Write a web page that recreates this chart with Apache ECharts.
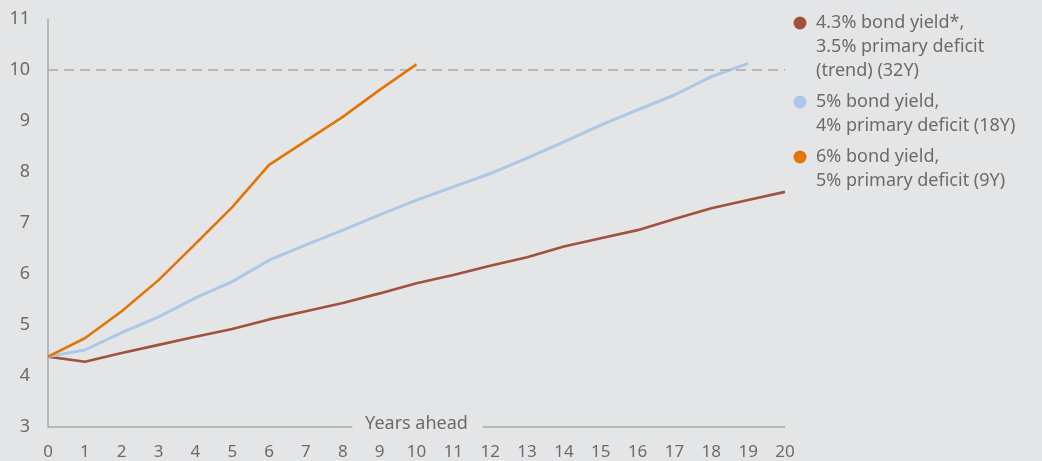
<!DOCTYPE html>
<html>
<head>
<meta charset="utf-8">
<title>Debt path scenarios</title>
<script src="https://cdn.jsdelivr.net/npm/echarts@6/dist/echarts.min.js"></script>
<style>
  html, body { margin: 0; padding: 0; background: #e4e5e7; }
  #chart { width: 1042px; height: 461px; }
</style>
</head>
<body>
<div id="chart"></div>
<script>
// Years ahead on the horizontal axis
const years = [0, 1, 2, 3, 4, 5, 6, 7, 8, 9, 10, 11, 12, 13, 14, 15, 16, 17, 18, 19, 20];

// Scenario paths, one value per year
const trendPath = [4.38, 4.28, 4.45, 4.61, 4.77, 4.92, 5.11, 5.27, 5.43, 5.62, 5.82, 5.98, 6.16, 6.33, 6.54, 6.70, 6.86, 7.08, 7.29, 7.45, 7.61];
const fivePctPath = [4.38, 4.51, 4.85, 5.16, 5.53, 5.85, 6.27, 6.57, 6.86, 7.16, 7.45, 7.71, 7.97, 8.27, 8.59, 8.92, 9.22, 9.51, 9.87, 10.13];
const sixPctPath = [4.38, 4.74, 5.27, 5.88, 6.59, 7.31, 8.14, 8.61, 9.08, 9.61, 10.11];

// Legend entries (each line of a label is one array element)
const seriesNames = [
  ['4.3% bond yield*,', '3.5% primary deficit', '(trend) (32Y)'],
  ['5% bond yield,', '4% primary deficit (18Y)'],
  ['6% bond yield,', '5% primary deficit (9Y)']
];
const seriesColors = ['#a0523d', '#aec7e6', '#e37405'];
const seriesData = [trendPath, fivePctPath, sixPctPath];

const yTicks = [3, 4, 5, 6, 7, 8, 9, 10, 11];
const thresholdLevel = 10;

// the baseline is broken where the axis title sits (in years)
const baselineGap = [8.26, 11.8];

const FONT = '"Noto Sans", "Open Sans", sans-serif';
const TEXT = '#6b6b6b';
const AXIS = '#a8a8a8';
const BG = '#e4e5e7';

const chart = echarts.init(document.getElementById('chart'));

const xMin = years[0];
const xMax = years[years.length - 1];
const yMin = yTicks[0];

const series = seriesData.map((vals, i) => ({
  type: 'line',
  name: seriesNames[i].join(' '),
  data: vals.map((v, k) => [years[k], v]),
  symbol: 'none',
  lineStyle: { color: seriesColors[i], width: i === 1 ? 3 : 2.6 },
  itemStyle: { color: seriesColors[i] },
  z: 3 + i,
  silent: true
}));

// dashed reference line at the threshold level
series[0].markLine = {
  silent: true,
  symbol: 'none',
  label: { show: false },
  lineStyle: { color: '#a9a9a9', type: [10, 6], width: 1.6 },
  data: [{ yAxis: thresholdLevel }],
  animation: false
};

// x baseline in two pieces, leaving room for the axis title
series[1].markLine = {
  silent: true,
  symbol: 'none',
  label: { show: false },
  lineStyle: { color: AXIS, type: 'solid', width: 1.5 },
  data: [
    [{ coord: [xMin, yMin] }, { coord: [baselineGap[0], yMin] }],
    [{ coord: [baselineGap[1], yMin] }, { coord: [xMax, yMin] }]
  ],
  animation: false
};

// custom legend: dot on the first line, wrapped labels below
const legendItems = [];
let y = 23;
seriesNames.forEach((lines, i) => {
  legendItems.push({
    type: 'circle',
    shape: { cx: 800, cy: y, r: 6.5 },
    style: { fill: seriesColors[i] }
  });
  legendItems.push({
    type: 'text',
    x: 816,
    y: y - 12,
    style: {
      text: lines.join('\n'),
      fill: TEXT,
      font: '18px ' + FONT,
      lineHeight: 24,
      letterSpacing: 0.5,
      verticalAlign: 'top'
    }
  });
  y += lines.length * 24 + 7;
});

chart.setOption({
  backgroundColor: BG,
  animation: false,
  grid: { left: 48, right: 257, top: 19, bottom: 34, containLabel: false, outerBoundsMode: 'none' },
  xAxis: {
    type: 'value',
    min: xMin,
    max: xMax,
    interval: 1,
    name: 'Years ahead',
    nameLocation: 'middle',
    nameGap: -12,
    nameMoveOverlap: false,
    nameTextStyle: {
      color: TEXT,
      fontSize: 18,
      fontFamily: FONT,
      verticalAlign: 'top'
    },
    axisLine: { show: false },
    axisTick: { show: false },
    splitLine: { show: false },
    axisLabel: { color: TEXT, fontSize: 17, fontFamily: FONT, margin: 17 }
  },
  yAxis: {
    type: 'value',
    min: yMin,
    max: yTicks[yTicks.length - 1],
    interval: 1,
    axisLine: { show: true, lineStyle: { color: AXIS, width: 1.5 } },
    axisTick: { show: false },
    splitLine: { show: false },
    axisLabel: { color: TEXT, fontSize: 18, fontFamily: FONT, margin: 18 }
  },
  graphic: legendItems,
  series: series
});
</script>
</body>
</html>
